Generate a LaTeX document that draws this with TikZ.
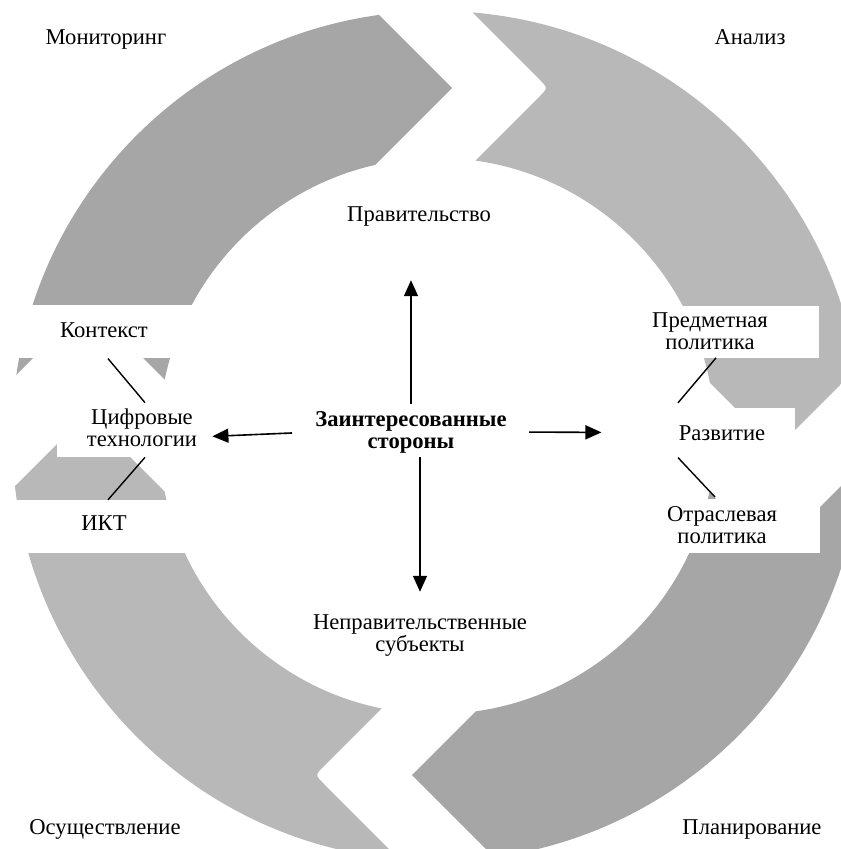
\documentclass[tikz,border=0pt]{standalone}
\usepackage{fontspec}
\setmainfont{Liberation Serif}
\usepackage{tikz}
\usetikzlibrary{arrows.meta,calc}
\definecolor{ringdark}{RGB}{166,166,166}
\definecolor{ringlight}{RGB}{184,184,184}

% one quarter of the cycle: notch at the top, head on the right, then turned
% #1 turn, #2 colour, #3/#4 notch offset/radius, #5/#6 head offset/radius
\newcommand{\cyclearrow}[6]{%
  \begin{scope}[shift={(437,436)},rotate=#1]
    \clip (0,0) -- ({#3-130},{-(#4-130)}) -- ({#3-9},{-(#4-9)})
      .. controls (#3,-#4) .. ({#3-9},{-(#4+9)}) -- ({#3-130},{-(#4+130)})
      -- (650,-650) -- ({#6+130},{#5-130}) -- (#6,#5) -- ({#6-130},{#5-130}) -- cycle;
    \fill[#2,even odd rule] (0,0) circle[radius=425] (0,0) circle[radius=278];
  \end{scope}}

\begin{document}
\begin{tikzpicture}[
  x=0.5pt,y=-0.5pt,
  lbl/.style={inner sep=0pt,align=center,font=\fontsize{11.3}{11}\selectfont},
  panel/.style={fill=white},
  link/.style={draw=black,line width=0.7pt},
  arr/.style={-{Triangle[length=8pt,width=7pt]},draw=black,line width=0.8pt}
]
\useasboundingbox (0,0) rectangle (840,849);

% ---- ring of four arrows
\cyclearrow{0}{ringlight}{111}{348}{13}{339}
\cyclearrow{-90}{ringdark}{119}{335}{25}{339}
\cyclearrow{-180}{ringlight}{122}{339}{22}{350}
\cyclearrow{90}{ringdark}{133}{349}{15}{348}

% ---- white panels under the side labels
\fill[panel] (9,305) rectangle (199,358);
\fill[panel] (57,403) rectangle (220,457);
\fill[panel] (8,500) rectangle (200,553);
\fill[panel] (601,306) rectangle (819,358);
\fill[panel] (649,408) rectangle (795,470);
\fill[panel] (624,499) rectangle (820,553);

% ---- stages
\node[lbl,anchor=base] (mon) at (106,45) {Мониторинг};
\node[lbl,anchor=base] (ana) at (750,45) {Анализ};
\node[lbl,anchor=base] (plan) at (752,834) {Планирование};
\node[lbl,anchor=base] (impl) at (105,834) {Осуществление};

% ---- stakeholders
\node[lbl,font=\fontsize{11.3}{11}\selectfont\bfseries] (stake) at (411,432) {Заинтересованные\\стороны};
\node[lbl,anchor=base] (gov) at (419,222) {Правительство};
\node[lbl] (ngo) at (420,636) {Неправительственные\\субъекты};

% ---- left side
\node[lbl,anchor=base] (ctx) at (104,337) {Контекст};
\node[lbl] (dig) at (142,428) {Цифровые\\технологии};
\node[lbl,anchor=base] (ikt) at (104,530) {ИКТ};

% ---- right side
\node[lbl] (subj) at (710,331) {Предметная\\политика};
\node[lbl,anchor=base] (dev) at (722,440) {Развитие};
\node[lbl] (sect) at (722,525) {Отраслевая\\политика};

\draw[link] ($(ctx.south)+(4,21)$) -- ($(dig.north)+(3,-6)$);
\draw[link] ($(dig.south)+(3,10)$) -- ($(ikt.north)+(4,-15)$);
\draw[link] ($(subj.south)+(6,8)$) -- ($(dev.north)+(-44,-22)$);
\draw[link] ($(dev.south)+(-44,17)$) -- ($(sect.north)+(-7,-9)$);

\draw[arr,shorten <=3.5pt,shorten >=26.5pt] (stake.north) -- (stake.north |- gov.south);
\draw[arr,shorten <=2pt,shorten >=11.5pt] (ngo.north |- stake.south) -- (ngo.north);
\draw[arr,shorten <=11.5pt,shorten >=7.5pt] (stake.west) -- ($(dig.east)+(0,9)$);
\draw[arr,shorten <=11pt,shorten >=38.5pt] (stake.east) -- (dev.west);
\end{tikzpicture}
\end{document}
